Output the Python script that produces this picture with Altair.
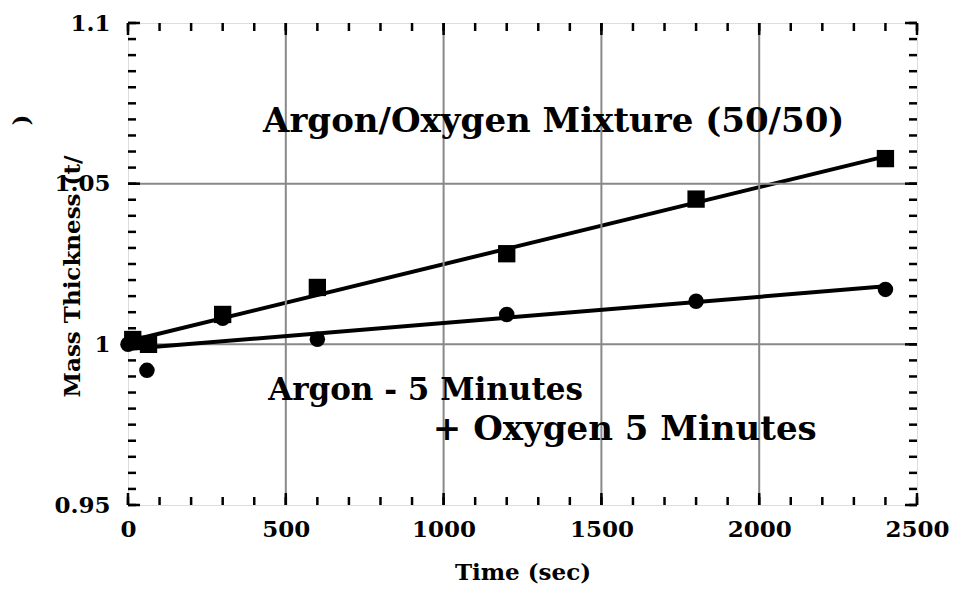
import altair as alt
import pandas as pd

FONT = "DejaVu Serif"

# Argon/Oxygen mixture (squares)
sq_time = [15, 65, 300, 600, 1200, 1800, 2400]
sq_thick = [1.0015, 1.0000, 1.0093, 1.0177, 1.0282, 1.0452, 1.0578]
# Argon 5 min + Oxygen 5 min (circles)
ci_time = [0, 60, 300, 600, 1200, 1800, 2400]
ci_thick = [1.0000, 0.9919, 1.0081, 1.0016, 1.0093, 1.0134, 1.0171]

# annotations
note_text = ["Argon/Oxygen Mixture (50/50)", "Argon - 5 Minutes", "+ Oxygen 5 Minutes"]
note_x = [428, 444, 966]
note_y = [1.066, 0.9826, 0.9702]
note_size = [34, 31, 34]

# axis tick positions
x_major = [0, 500, 1000, 1500, 2000, 2500]
x_minor = list(range(0, 2501, 100))
y_major = [0.95, 1.0, 1.05, 1.1]
y_minor = [round(0.95 + 0.005 * i, 3) for i in range(31)]
x_grid = [500, 1000, 1500, 2000]
y_grid = [1.0, 1.05]

W, H = 789, 482

sq = pd.DataFrame({"t": sq_time, "m": sq_thick})
ci = pd.DataFrame({"t": ci_time, "m": ci_thick})
notes = pd.DataFrame({"label": note_text, "t": note_x, "m": note_y, "fs": note_size})

xs = alt.Scale(domain=[0, 2500], nice=False, zero=False)
ys = alt.Scale(domain=[0.95, 1.1], nice=False, zero=False)

X = alt.X("t:Q", scale=xs, axis=alt.Axis(
    values=x_major, format="d", title="Time (sec)", grid=False, ticks=False,
    domain=False, labelFlush=False, labelOverlap=False, labelBound=False,
    labelFont=FONT, labelFontWeight="bold", labelFontSize=23,
    labelColor="black", labelPadding=13, titleFont=FONT, titleFontWeight="bold",
    titleFontSize=23, titleColor="black", titlePadding=20))
Y = alt.Y("m:Q", scale=ys, axis=alt.Axis(
    values=y_major, format="~g", title="Mass Thickness (t/", grid=False, ticks=False,
    domain=False, labelFlush=False, labelOverlap=False, labelBound=False,
    labelFont=FONT, labelFontWeight="bold", labelFontSize=23,
    labelColor="black", labelPadding=18, labelBaseline="middle",
    titleFont=FONT, titleFontWeight="bold", titleFontSize=23, titleColor="black",
    titleAngle=270, titleX=-56, titleY=253, titleAlign="center", titleBaseline="middle"))

XP = alt.X("t:Q", scale=xs)
YP = alt.Y("m:Q", scale=ys)

gx = alt.Chart(pd.DataFrame({"t": x_grid})).mark_rule(color="#888888", strokeWidth=2).encode(x=XP)
gy = alt.Chart(pd.DataFrame({"m": y_grid})).mark_rule(color="#888888", strokeWidth=2).encode(y=YP)

def xticks(vals, length):
    d = pd.DataFrame({"t": vals})
    b = alt.Chart(d).mark_rule(color="black", strokeWidth=2.5).encode(
        x=XP, y=alt.value(H), y2=alt.value(H - length))
    t = alt.Chart(d).mark_rule(color="black", strokeWidth=2.5).encode(
        x=XP, y=alt.value(0), y2=alt.value(length))
    return b + t

def yticks(vals, length):
    d = pd.DataFrame({"m": vals})
    l = alt.Chart(d).mark_rule(color="black", strokeWidth=2.5).encode(
        y=YP, x=alt.value(0), x2=alt.value(length))
    r = alt.Chart(d).mark_rule(color="black", strokeWidth=2.5).encode(
        y=YP, x=alt.value(W), x2=alt.value(W - length))
    return l + r

base_sq = alt.Chart(sq)
base_ci = alt.Chart(ci)

fit_sq = base_sq.transform_regression("t", "m", extent=[0, 2400]).mark_line(
    color="black", strokeWidth=4).encode(x=X, y=Y)
fit_ci = base_ci.transform_regression("t", "m", extent=[0, 2400]).mark_line(
    color="black", strokeWidth=4).encode(x=XP, y=YP)
pts_sq = base_sq.mark_point(shape="square", filled=True, size=300, color="black",
                            opacity=1).encode(x=XP, y=YP)
pts_ci = base_ci.mark_point(shape="circle", filled=True, size=240, color="black",
                            opacity=1).encode(x=XP, y=YP)

txt = alt.Chart(notes).mark_text(align="left", baseline="alphabetic", font=FONT,
                                 fontWeight="bold", color="black").encode(
    x=XP, y=YP, text="label:N", size=alt.Size("fs:Q", scale=None, legend=None))

paren = alt.Chart(alt.Data(values=[{"s": ")"}])).mark_text(
    font=FONT, fontWeight="bold", fontSize=23, color="black", angle=270,
    align="center", baseline="middle").encode(
    x=alt.value(-106), y=alt.value(97), text="s:N")

chart = alt.layer(
    fit_sq, gx, gy, fit_ci, pts_sq, pts_ci,
    xticks(x_minor, 8), xticks(x_major, 12), yticks(y_minor, 8), yticks(y_major, 12),
    txt, paren
).properties(
    width=W, height=H,
    autosize=alt.AutoSizeParams(type="none"),
    padding={"left": 128, "top": 23, "right": 41, "bottom": 86},
).configure_view(stroke="black", strokeWidth=3).configure(background="white")

chart.save("out.html", embed_options={"renderer": "svg", "actions": False})
